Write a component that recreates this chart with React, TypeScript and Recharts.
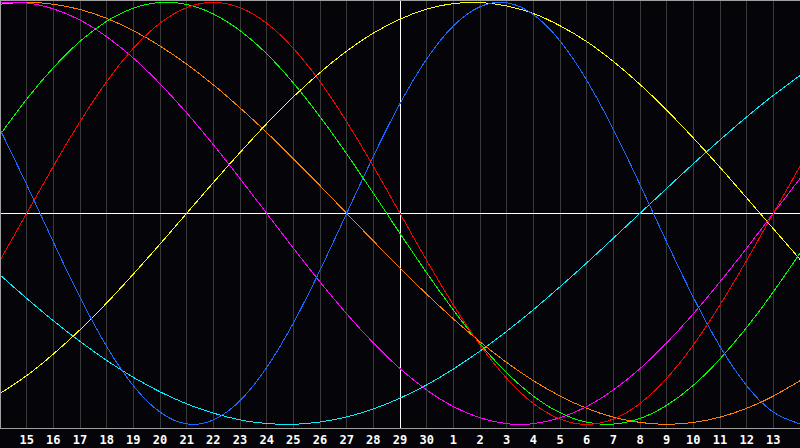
import React from "react";
import { LineChart, Line, XAxis, YAxis, CartesianGrid, ReferenceLine } from "recharts";

// Day labels (x = 0 .. 30); first/last (14) not labelled
const dayLabels = ["14","15","16","17","18","19","20","21","22","23","24","25","26","27","28","29","30","1","2","3","4","5","6","7","8","9","10","11","12","13","14"];
const todayIndex = 15; // 29

// Biorhythm values (-1 .. 1)
const physical = [0.398,0.136,-0.136,-0.398,-0.631,-0.817,-0.942,-0.998,-0.979,-0.888,-0.731,-0.520,-0.270,0,0.270,0.520,0.731,0.888,0.979,0.998,0.942,0.817,0.631,0.398,0.136,-0.136,-0.398,-0.631,-0.817,-0.942,-0.998];
const emotional = [-0.223,0,0.223,0.434,0.624,0.782,0.901,0.975,1,0.975,0.901,0.782,0.624,0.434,0.223,0,-0.223,-0.434,-0.624,-0.782,-0.901,-0.975,-1,-0.975,-0.901,-0.782,-0.624,-0.434,-0.223,0,0.223];
const intellectual = [0.372,0.541,0.690,0.815,0.910,0.972,0.999,0.990,0.945,0.866,0.756,0.618,0.458,0.282,0.095,-0.095,-0.282,-0.458,-0.618,-0.756,-0.866,-0.945,-0.990,-0.999,-0.972,-0.910,-0.815,-0.690,-0.541,-0.372,-0.189];
const intuitive = [0.997,0.997,0.969,0.916,0.837,0.736,0.614,0.476,0.325,0.165,0,-0.165,-0.325,-0.476,-0.614,-0.736,-0.837,-0.916,-0.969,-0.997,-0.997,-0.969,-0.916,-0.837,-0.736,-0.614,-0.476,-0.325,-0.165,0,0.165];
const aesthetic = [-0.854,-0.769,-0.667,-0.552,-0.425,-0.288,-0.146,0,0.146,0.288,0.425,0.552,0.667,0.769,0.854,0.920,0.968,0.994,0.999,0.983,0.947,0.889,0.814,0.720,0.611,0.489,0.357,0.218,0.073,-0.073,-0.218];
const awareness = [0.991,1,0.991,0.966,0.924,0.866,0.793,0.707,0.609,0.5,0.383,0.259,0.131,0,-0.131,-0.259,-0.383,-0.5,-0.609,-0.707,-0.793,-0.866,-0.924,-0.966,-0.991,-1,-0.991,-0.966,-0.924,-0.866,-0.793];
const spiritual = [-0.292,-0.403,-0.509,-0.607,-0.697,-0.777,-0.846,-0.903,-0.947,-0.979,-0.996,-1.0,-0.989,-0.965,-0.927,-0.876,-0.813,-0.738,-0.653,-0.559,-0.457,-0.348,-0.235,-0.118,0,0.118,0.235,0.348,0.457,0.559,0.653];

const data = dayLabels.map((d, i) => ({
  i,
  day: d,
  physical: physical[i],
  emotional: emotional[i],
  intellectual: intellectual[i],
  intuitive: intuitive[i],
  aesthetic: aesthetic[i],
  awareness: awareness[i],
  spiritual: spiritual[i],
}));

const ticks = dayLabels.map((_, i) => i);

const series = [
  { key: "spiritual", color: "#00f0ff" },
  { key: "awareness", color: "#ff8000" },
  { key: "aesthetic", color: "#ffff00" },
  { key: "intuitive", color: "#ff00ff" },
  { key: "intellectual", color: "#00ff00" },
  { key: "emotional", color: "#ff0000" },
  { key: "physical", color: "#1a6aff" },
];

export default function App() {
  return (
    <div style={{ position: "fixed", left: 0, top: 0, width: 800, height: 448, background: "#050408", overflow: "hidden" }}>
      <LineChart width={800} height={448} data={data} margin={{ top: 0, right: 0, bottom: 0, left: 0 }}>
        <CartesianGrid vertical={true} horizontal={false} stroke="#3a3a3a" strokeWidth={1} shapeRendering="crispEdges" />
        <XAxis
          dataKey="i"
          type="number"
          domain={[0, 30]}
          ticks={ticks}
          interval={0}
          height={20}
          axisLine={{ stroke: "#a0a0a0", shapeRendering: "crispEdges" }}
          tickLine={false}
          tickSize={7}
          tickMargin={0}
          tickFormatter={(v: number) => (v === 0 || v === 30 ? "" : dayLabels[v])}
          tick={{ fill: "#ffffff", fontSize: 12, fontWeight: "bold", fontFamily: "DejaVu Sans Mono" }}
        />
        <YAxis hide type="number" domain={[-1.0174, 1.011]} allowDataOverflow />
        <ReferenceLine y={0} stroke="#ffffff" strokeWidth={1} shapeRendering="crispEdges" />
        <ReferenceLine x={todayIndex} stroke="#ffffff" strokeWidth={1} shapeRendering="crispEdges" />
        {series.map((s) => (
          <Line
            key={s.key}
            dataKey={s.key}
            type="natural"
            stroke={s.color}
            strokeWidth={1}
            dot={false}
            activeDot={false}
            isAnimationActive={false}
            shapeRendering="crispEdges"
          />
        ))}
      </LineChart>
      <div
        style={{
          position: "absolute",
          left: 0,
          top: 0,
          width: 800,
          height: 429,
          boxSizing: "border-box",
          borderTop: "1px solid #a0a0a0",
          borderLeft: "1px solid #a0a0a0",
          pointerEvents: "none",
        }}
      />
    </div>
  );
}
